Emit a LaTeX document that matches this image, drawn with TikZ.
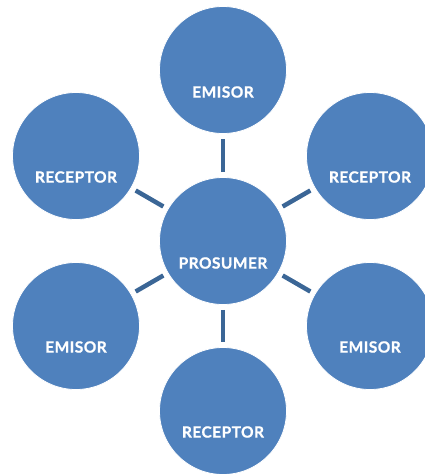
\documentclass[tikz,border=0pt]{standalone}
\usepackage{fontspec}
\setmainfont{Lato}
\newfontfamily\lblfont{Lato}[UprightFont=*-Bold,FakeBold=0.8,LetterSpace=3]
\definecolor{circfill}{HTML}{4F81BD}
\definecolor{linkcol}{HTML}{3B6696}
\begin{document}
\begin{tikzpicture}[x=1pt,y=-1pt,
  bubble/.style={circle,fill=circfill,draw=white,line width=0.8pt,minimum size=127pt,inner sep=0pt},
  lbl/.style={text=white,font=\lblfont\fontsize{15.5}{17}\selectfont,inner sep=0pt},
  link/.style={draw=linkcol,line width=4.5pt,shorten >=5pt,shorten <=5pt}]
\useasboundingbox (0,0) rectangle (425,474);
\clip (0,0) rectangle (425,474);
\node[bubble] (c) at (223,241) {};
\node[bubble] (t) at (223,70) {};
\node[bubble] (tl) at (76,156) {};
\node[bubble] (tr) at (370,156) {};
\node[bubble] (bl) at (76,326) {};
\node[bubble] (br) at (370,326) {};
\node[bubble] (b) at (223,411) {};
\node[lbl] (lc) at (223,263) {PROSUMER};
\node[lbl] (lt) at (223,92) {EMISOR};
\node[lbl] (ltl) at (76,177) {RECEPTOR};
\node[lbl] (ltr) at (370,177) {RECEPTOR};
\node[lbl] (lbl) at (76,347) {EMISOR};
\node[lbl] (lbr) at (370,347) {EMISOR};
\node[lbl] (lb) at (223,432) {RECEPTOR};
\draw[link] (c) -- (t);
\draw[link] (c) -- (tl);
\draw[link] (c) -- (tr);
\draw[link] (c) -- (bl);
\draw[link] (c) -- (br);
\draw[link] (c) -- (b);
\end{tikzpicture}
\end{document}
